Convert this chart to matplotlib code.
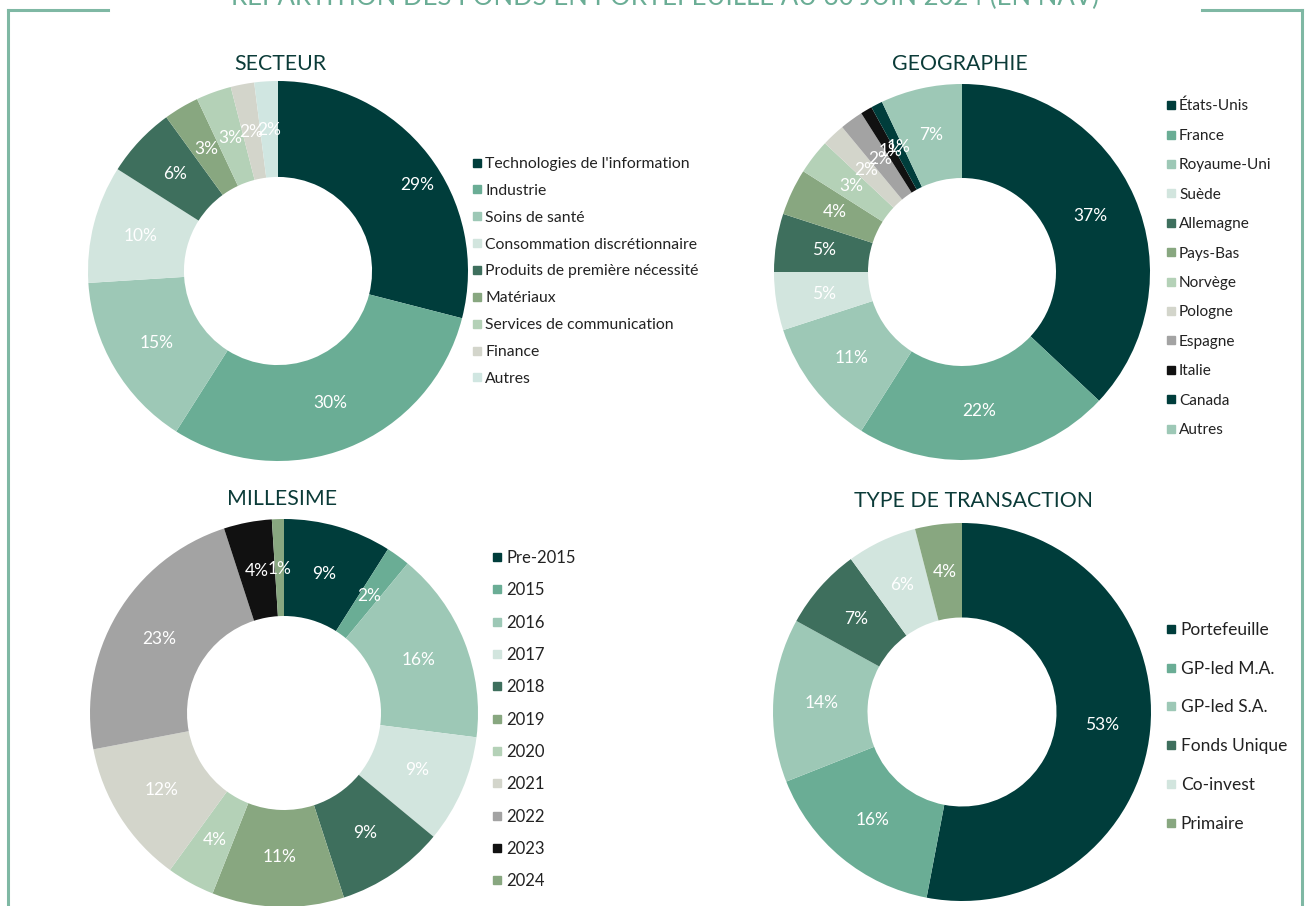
import matplotlib
matplotlib.use("Agg")
import matplotlib.pyplot as plt
from matplotlib.lines import Line2D
import numpy as np

plt.rcParams['font.family'] = ['Lato', 'DejaVu Sans']

# ---------------- data ----------------
secteur_labels = ["Technologies de l'information", "Industrie", "Soins de santé",
                  "Consommation discrétionnaire", "Produits de première nécessité",
                  "Matériaux", "Services de communication", "Finance", "Autres"]
secteur_values = [29, 30, 15, 10, 6, 3, 3, 2, 2]

geo_labels = ["États-Unis", "France", "Royaume-Uni", "Suède", "Allemagne", "Pays-Bas",
              "Norvège", "Pologne", "Espagne", "Italie", "Canada", "Autres"]
geo_values = [37, 22, 11, 5, 5, 4, 3, 2, 2, 1, 1, 7]

mill_labels = ["Pre-2015", "2015", "2016", "2017", "2018", "2019", "2020", "2021",
               "2022", "2023", "2024"]
mill_values = [9, 2, 16, 9, 9, 11, 4, 12, 23, 4, 1]

type_labels = ["Portefeuille", "GP-led M.A.", "GP-led S.A.", "Fonds Unique",
               "Co-invest", "Primaire"]
type_values = [53, 16, 14, 7, 6, 4]

# ---------------- colours ----------------
DARK = "#003d3b"
C_IND = "#6aad95"
C_SOIN = "#9dc8b6"
C_CONS = "#d2e5de"
C_PROD = "#3e6f5d"
C_MAT = "#88a780"
C_SERV = "#b4d1b7"
C_FIN = "#d3d5cb"
C_AUT = "#d0e6e1"
C_GREY = "#a3a3a3"
C_BLACK = "#111111"

secteur_colors = [DARK, C_IND, C_SOIN, C_CONS, C_PROD, C_MAT, C_SERV, C_FIN, C_AUT]
geo_colors = [DARK, C_IND, C_SOIN, C_CONS, C_PROD, C_MAT, C_SERV, C_FIN, C_GREY,
              C_BLACK, DARK, C_SOIN]
mill_colors = [DARK, C_IND, C_SOIN, C_CONS, C_PROD, C_MAT, C_SERV, C_FIN, C_GREY,
               C_BLACK, C_MAT]
type_colors = [DARK, C_IND, C_SOIN, C_PROD, C_CONS, C_MAT]

TITLE_COL = "#0b3b38"
BORDER_COL = "#7fb8a4"

W, H = 1307, 906
fig = plt.figure(figsize=(W / 100, H / 100), dpi=100)
fig.patch.set_facecolor("white")


def px_axes(cx, cy, r):
    return fig.add_axes([(cx - r) / W, 1 - (cy + r) / H, 2 * r / W, 2 * r / H])


def donut(cx, cy, r, hole, values, colors, labels, title, title_y, title_x,
          leg_x, leg_y, leg_space, leg_fs, pct_fs=12.5, label_r=None):
    ax = px_axes(cx, cy, r)
    wedges, _ = ax.pie(values, colors=colors, startangle=90, counterclock=False,
                       radius=1, wedgeprops=dict(width=1 - hole, linewidth=0))
    total = sum(values)
    label_r = label_r or {}
    for i, (w, v) in enumerate(zip(wedges, values)):
        rr, dang = label_r.get(i, (0.745, 0))
        ang = np.deg2rad((w.theta1 + w.theta2) / 2 + dang)
        ax.text(rr * np.cos(ang), rr * np.sin(ang), f"{v / total * 100:.0f}%",
                ha="center", va="center", color="white", fontsize=pct_fs)
    ax.set_xlim(-1, 1)
    ax.set_ylim(-1, 1)
    ax.set_aspect("equal")
    ax.axis("off")
    fig.text(title_x / W, 1 - title_y / H, title, ha="center", va="center",
             fontsize=15.3, color=TITLE_COL)
    handles = [Line2D([0], [0], marker="s", linestyle="none", markersize=6,
                      markerfacecolor=c, markeredgecolor=c) for c in colors]
    fig.legend(handles, labels, loc="upper left",
               bbox_to_anchor=(leg_x / W, 1 - leg_y / H), frameon=False,
               fontsize=leg_fs, handlelength=0.6, handletextpad=0.25,
               labelspacing=leg_space, borderaxespad=0, borderpad=0,
               labelcolor="#222222")
    return ax


donut(278, 271, 190, 0.495, secteur_values, secteur_colors, secteur_labels,
      "SECTEUR", 64, 280, 472, 157, 0.82, 11.3, label_r={0: (0.86, -6)})
donut(962, 272, 188, 0.5, geo_values, geo_colors, geo_labels,
      "GEOGRAPHIE", 64, 960, 1166, 99, 1.0, 11.1)
donut(284, 713, 194, 0.5, mill_values, mill_colors, mill_labels,
      "MILLESIME", 499, 282, 492, 550, 0.98, 12)
donut(962, 712, 189, 0.5, type_values, type_colors, type_labels,
      "TYPE DE TRANSACTION", 501, 973, 1166, 622, 1.31, 12.5)

# frame / border
for xs, ys in [([8, 8], [906, 10]), ([8, 108], [10, 10]),
               ([1202, 1302], [10, 10]), ([1302, 1302], [906, 10])]:
    fig.add_artist(Line2D([x / W for x in xs], [1 - y / H for y in ys],
                          color=BORDER_COL, lw=2.2, transform=fig.transFigure))

# cut-off title at the very top
fig.text(665 / W, 1 - 4 / H, "RÉPARTITION DES FONDS EN PORTEFEUILLE AU 30 JUIN 2024 (EN NAV)",
         ha="center", va="baseline", fontsize=18.5, color="#6aad95")

fig.savefig("out.png", dpi=100)
